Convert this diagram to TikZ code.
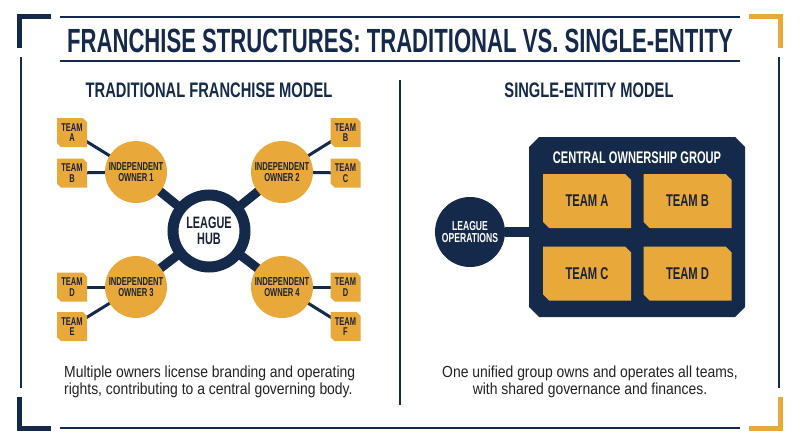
\documentclass[tikz,border=0pt]{standalone}
\usepackage{fontspec}
\setmainfont{Liberation Sans}
\newfontfamily\condbold[FakeStretch=0.66]{Liberation Sans}
\newfontfamily\headbold[FakeStretch=0.70]{Liberation Sans}
\newfontfamily\footfont[FakeStretch=0.87]{Liberation Sans}
\usetikzlibrary{backgrounds}
\definecolor{navy}{HTML}{15294A}
\definecolor{gold}{HTML}{E8A93A}
\definecolor{ink}{HTML}{1B2235}
\definecolor{foottext}{HTML}{222222}
% chamfered fill of the node's box: north-east and south-west corners cut
\newcommand\fillNESW[2]{%
  \fill[#1] (path picture bounding box.north west)
    -- ([xshift=-#2]path picture bounding box.north east)
    -- ([yshift=-#2]path picture bounding box.north east)
    -- (path picture bounding box.south east)
    -- ([xshift=#2]path picture bounding box.south west)
    -- ([yshift=#2]path picture bounding box.south west) -- cycle;}
% all four corners cut
\newcommand\fillALL[2]{%
  \fill[#1] ([xshift=#2]path picture bounding box.north west)
    -- ([xshift=-#2]path picture bounding box.north east)
    -- ([yshift=-#2]path picture bounding box.north east)
    -- ([yshift=#2]path picture bounding box.south east)
    -- ([xshift=-#2]path picture bounding box.south east)
    -- ([xshift=#2]path picture bounding box.south west)
    -- ([yshift=#2]path picture bounding box.south west)
    -- ([yshift=-#2]path picture bounding box.north west) -- cycle;}
\tikzset{
  every node/.style={inner sep=0pt},
  teamsm/.style={rectangle, path picture={\fillNESW{gold}{4pt}}, minimum width=30pt, minimum height=29pt,
    align=center, text=ink, font=\condbold\bfseries\fontsize{11.3}{10.5}\selectfont},
  teambig/.style={rectangle, path picture={\fillNESW{gold}{6pt}}, minimum width=88pt, minimum height=54pt,
    text=ink, font=\condbold\bfseries\fontsize{17}{18}\selectfont},
  owner/.style={circle, fill=gold, minimum size=62pt, align=center, text=ink,
    font=\condbold\bfseries\fontsize{11.5}{11.5}\selectfont},
  spoke/.style={navy, line width=9pt},
  twig/.style={navy, line width=3pt},
  frameline/.style={navy, line width=1.4pt},
  bracket/.style={line width=5.5pt},
  heading/.style={anchor=base, text=navy, font=\headbold\bfseries\fontsize{21}{24}\selectfont},
  foot/.style={text=foottext, font=\footfont\fontsize{16}{17}\selectfont}
}
\begin{document}
\begin{tikzpicture}[x=1pt,y=-1pt]
\useasboundingbox (0,0) rectangle (800,447);
% frame
\draw[bracket, navy] (19.5,48) -- (19.5,16.5) -- (51,16.5);
\draw[bracket, gold] (749,16.5) -- (780.5,16.5) -- (780.5,48);
\draw[bracket, navy] (19.5,397) -- (19.5,428.5) -- (51,428.5);
\draw[bracket, gold] (749,428.5) -- (780.5,428.5) -- (780.5,397);
\draw[frameline, line width=1.2pt] (21,57) -- (21,388);
\draw[frameline, line width=1.2pt] (779,57) -- (779,388);
\draw[frameline] (60,17) -- (740,17);
\draw[frameline] (60,61) -- (740,61);
\draw[frameline] (60,428) -- (740,428);
\draw[navy, line width=1.8pt] (400,80) -- (400,405);

% title and headings
\node[anchor=base, text=navy, font=\condbold\bfseries\fontsize{33.5}{36}\selectfont] (title) at (400,52)
  {FRANCHISE STRUCTURES: TRADITIONAL VS. SINGLE-ENTITY};
\node[heading] (hleft) at (209,97) {TRADITIONAL FRANCHISE MODEL};
\node[heading] (hright) at (589,97) {SINGLE-ENTITY MODEL};

% traditional model
\node[circle, draw=navy, line width=11pt, fill=white, minimum size=72pt, align=center,
  text=ink, font=\condbold\bfseries\fontsize{16.5}{15.5}\selectfont] (hub) at (209,231) {LEAGUE\\HUB};
\node[owner] (o1) at (136,172) {INDEPENDENT\\OWNER 1};
\node[owner] (o2) at (282,172) {INDEPENDENT\\OWNER 2};
\node[owner] (o3) at (136,287) {INDEPENDENT\\OWNER 3};
\node[owner] (o4) at (282,287) {INDEPENDENT\\OWNER 4};
\node[teamsm] (ta) at (72,132.5) {TEAM\\A};
\node[teamsm] (tb) at (72,173) {TEAM\\B};
\node[teamsm] (td) at (72,287) {TEAM\\D};
\node[teamsm] (te) at (72,326.5) {TEAM\\E};
\node[teamsm] (tb2) at (345.5,132.5) {TEAM\\B};
\node[teamsm] (tc) at (345.5,173) {TEAM\\C};
\node[teamsm] (td2) at (345.5,287) {TEAM\\D};
\node[teamsm] (tf) at (345.5,326.5) {TEAM\\F};

% single-entity model
\node[rectangle, path picture={\fillALL{navy}{10pt}}, minimum width=216pt,
  minimum height=180pt] (group) at (637,227) {};
\node[anchor=base, text=white, font=\condbold\bfseries\fontsize{16.8}{18}\selectfont] (gtitle) at (637,163)
  {CENTRAL OWNERSHIP GROUP};
\node[teambig] (ga) at (587,201) {TEAM A};
\node[teambig] (gb) at (687.5,201) {TEAM B};
\node[teambig] (gc) at (587,273.5) {TEAM C};
\node[teambig] (gd) at (687.5,273.5) {TEAM D};
\node[circle, fill=navy, minimum size=70pt, align=center, text=white,
  font=\condbold\bfseries\fontsize{13}{12.5}\selectfont] (ops) at (470,232) {LEAGUE\\OPERATIONS};
\draw[navy, line width=10pt] (ops.east) -- (ops.east -| group.west);

% footers
\node[foot, anchor=north west, align=left] (fleft) at (64,365.5)
  {Multiple owners license branding and operating\\rights, contributing to a central governing body.};
\node[foot, anchor=north, align=center] (fright) at (590,365.5)
  {One unified group owns and operates all teams,\\with shared governance and finances.};

\begin{pgfonlayer}{background}
\fill[white] (0,0) rectangle (800,447);
\draw[spoke] (hub.center) -- (o1.center);
\draw[spoke] (hub.center) -- (o2.center);
\draw[spoke] (hub.center) -- (o3.center);
\draw[spoke] (hub.center) -- (o4.center);
\draw[twig] (ta.center) -- (o1.center);
\draw[twig] (tb.center) -- (o1.center);
\draw[twig] (td.center) -- (o3.center);
\draw[twig] (te.center) -- (o3.center);
\draw[twig] (tb2.center) -- (o2.center);
\draw[twig] (tc.center) -- (o2.center);
\draw[twig] (td2.center) -- (o4.center);
\draw[twig] (tf.center) -- (o4.center);
\end{pgfonlayer}
\end{tikzpicture}
\end{document}
